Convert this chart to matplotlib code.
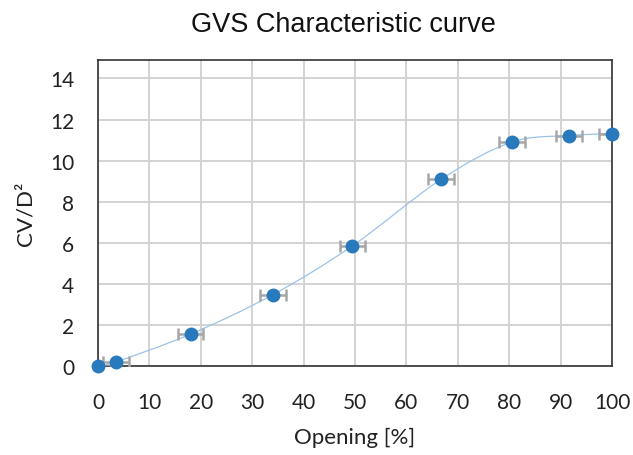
import matplotlib
matplotlib.use("Agg")
import matplotlib.pyplot as plt
from matplotlib.path import Path
from matplotlib.patches import PathPatch
import numpy as np

opening = [0, 3.5, 18, 34, 49.5, 66.8, 80.5, 91.7, 100]
cv_d2 = [0.0, 0.2, 1.55, 3.47, 5.85, 9.1, 10.9, 11.22, 11.32]
x_err = [2.5, 2.5, 2.5, 2.5, 2.5, 2.5, 2.5, 2.5, 2.5]
x_ticks = [0, 10, 20, 30, 40, 50, 60, 70, 80, 90, 100]
y_ticks = [0, 2, 4, 6, 8, 10, 12, 14]

fig = plt.figure(figsize=(6.33, 4.56), dpi=100)
ax = fig.add_axes([0.1548, 0.1952, 0.8120, 0.6710])

# smooth line (Excel-style Bezier through points)
xs = np.array(opening, float)
ys = np.array(cv_d2, float)
verts = [(xs[0], ys[0])]
codes = [Path.MOVETO]
n = len(xs)
for i in range(n - 1):
    p0 = (xs[max(i - 1, 0)], ys[max(i - 1, 0)])
    p1 = (xs[i], ys[i])
    p2 = (xs[i + 1], ys[i + 1])
    p3 = (xs[min(i + 2, n - 1)], ys[min(i + 2, n - 1)])
    c1 = (p1[0] + (p2[0] - p0[0]) / 6, p1[1] + (p2[1] - p0[1]) / 6)
    c2 = (p2[0] - (p3[0] - p1[0]) / 6, p2[1] - (p3[1] - p1[1]) / 6)
    verts += [c1, c2, p2]
    codes += [Path.CURVE4] * 3
ax.add_patch(PathPatch(Path(verts, codes), facecolor="none",
                       edgecolor="#9DC3E6", lw=0.9, zorder=2))

ax.errorbar(opening, cv_d2, xerr=x_err, fmt="none", ecolor="#A6A6A6",
            elinewidth=1.8, capsize=4.3, capthick=1.8, zorder=3)
ax.plot(opening, cv_d2, "o", color="#2979BD", markersize=9, zorder=4,
        clip_on=False)

ax.set_xlim(0, 100)
ax.set_ylim(0, 14.9)
ax.set_xticks(x_ticks)
ax.set_yticks(y_ticks)
ax.grid(True, color="#D3D3D3", lw=1.4)
ax.set_axisbelow(True)
ax.tick_params(length=0, labelsize=15, colors="#222222")
ax.tick_params(axis="x", pad=19)
ax.tick_params(axis="y", pad=17)
for lab in ax.get_xticklabels() + ax.get_yticklabels():
    lab.set_fontfamily("Lato")
for s in ax.spines.values():
    s.set_color("#333333")
    s.set_linewidth(1.2)

ax.set_xlabel("Opening [%]", fontsize=16, fontfamily="Lato", color="#222222")
ax.xaxis.set_label_coords(0.499, -0.199)
ax.set_ylabel("CV/D²", fontsize=16, fontfamily="Lato", color="#222222")
ax.yaxis.set_label_coords(-0.142, 0.5)
ax.yaxis.label.set_va("center")
ax.xaxis.label.set_va("top")
fig.text(0.542, 1 - 32 / 456, "GVS Characteristic curve", ha="center",
         va="baseline", fontsize=19.5, fontfamily="Liberation Sans",
         color="#111111")

fig.savefig("out.png", dpi=100)
